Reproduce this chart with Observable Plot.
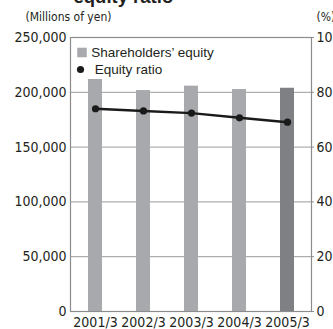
<!DOCTYPE html>
<html>
<head>
<meta charset="utf-8">
<script src="https://cdn.jsdelivr.net/npm/d3@7"></script>
<script src="https://cdn.jsdelivr.net/npm/@observablehq/plot@0.6"></script>
<style>
  html, body { margin: 0; padding: 0; background: #fff; }
  #chart { width: 333px; height: 329px; overflow: hidden; }
</style>
</head>
<body>
<div id="chart"></div>
<script>
const years = ["2001/3", "2002/3", "2003/3", "2004/3", "2005/3"];
const equity = [211700, 201600, 205600, 202500, 203700];   // millions of yen
const ratio = [74.0, 73.2, 72.4, 70.7, 69.1];              // %
const leftTicks = [0, 50000, 100000, 150000, 200000, 250000];
const rightTicks = [0, 20, 40, 60, 80, 100];

const K = 2500; // 100% maps to 250,000
const data = years.map((y, i) => ({year: y, equity: equity[i], ratio: ratio[i], last: i === years.length - 1}));

const narrow = "'Liberation Sans Narrow', 'DejaVu Sans Condensed', sans-serif";
const textColor = "#231f20";

const plot = Plot.plot({
  width: 333,
  height: 329,
  marginLeft: 70,
  marginRight: 22,
  marginTop: 37,
  marginBottom: 18,
  style: {fontFamily: narrow, fontSize: "14px", color: textColor, background: "#fff", overflow: "visible"},
  x: {domain: years, paddingInner: 0.71, paddingOuter: 0.355, label: null},
  y: {domain: [0, 250000], label: null},
  marks: [
    Plot.gridY(leftTicks.slice(1, -1), {stroke: "#9a9a9a", strokeOpacity: 1, strokeWidth: 1}),
    Plot.barY(data, {x: "year", y: "equity", fill: d => d.last ? "#7f8084" : "#a8a9ad"}),
    Plot.frame({stroke: "#8c8c8c", strokeWidth: 1.2}),
    Plot.axisY(leftTicks, {anchor: "left", tickSize: 0, tickPadding: 4, tickFormat: d3.format(","), fontSize: 14, fill: textColor}),
    Plot.axisY(rightTicks.map(v => v * K), {anchor: "right", tickSize: 2, tickPadding: 3, tickFormat: d => String(d / K), fontSize: 14, fill: textColor, stroke: "#8c8c8c"}),
    Plot.axisX(years, {anchor: "bottom", tickSize: 0, tickPadding: 6, fontSize: 14, fill: textColor}),
    Plot.line(data, {x: "year", y: d => d.ratio * K, stroke: "#1a1a1a", strokeWidth: 2.5}),
    Plot.dot(data, {x: "year", y: d => d.ratio * K, r: 3.6, fill: "#1a1a1a", stroke: "none"}),
    // legend
    Plot.dot([0], {frameAnchor: "top-left", dx: 11.5, dy: 15, symbol: "square", r: 5.4, fill: "#a8a9ad", stroke: "none"}),
    Plot.text(["Shareholders\u2019 equity"], {frameAnchor: "top-left", dx: 20.7, dy: 15.5, textAnchor: "start", lineAnchor: "middle", fontSize: 13.5, fontFamily: "'Liberation Sans', Arial, sans-serif", fill: textColor}),
    Plot.dot([0], {frameAnchor: "top-left", dx: 10, dy: 32, r: 3.6, fill: "#1a1a1a", stroke: "none"}),
    Plot.text(["Equity ratio"], {frameAnchor: "top-left", dx: 24.3, dy: 32, textAnchor: "start", lineAnchor: "middle", fontSize: 13.5, fontFamily: "'Liberation Sans', Arial, sans-serif", fill: textColor}),
    // units
    Plot.text(["(Millions of yen)"], {frameAnchor: "top-left", dx: -45, dy: -20, textAnchor: "start", lineAnchor: "middle", fontSize: 12, fill: textColor}),
    Plot.text(["(%)"], {frameAnchor: "top-right", dx: 5, dy: -20, textAnchor: "start", lineAnchor: "middle", fontSize: 12, fill: textColor}),
    // title (cut off at top, as in the reference)
    Plot.text(["equity ratio"], {frameAnchor: "top-left", dx: 3, dy: -35, textAnchor: "start", lineAnchor: "bottom", fontSize: 18.5, fontWeight: "bold", fontFamily: "'Liberation Sans', Arial, sans-serif", fill: textColor})
  ]
});
document.getElementById("chart").appendChild(plot);
</script>
</body>
</html>
